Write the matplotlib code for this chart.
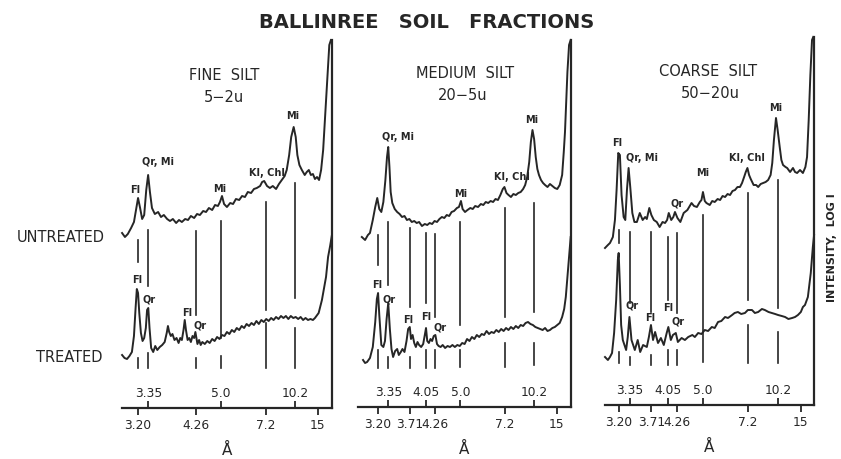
import numpy as np
import matplotlib
matplotlib.use("Agg")
import matplotlib.pyplot as plt

# ---------------- data (2-theta in degrees, Cu K-alpha; intensity in chart units) ----------------
WAVELENGTH = 1.5406

# Panel 1: fine silt 5-2u
p1_untr_2t = [29.8, 29.45, 29.1, 28.7, 28.35, 28.1, 27.85, 27.6, 27.35, 27.1, 26.85, 26.62, 26.4, 26.15,
              25.8, 25.4, 25.05, 24.7, 24.3, 23.95, 23.6, 23.2, 22.85, 22.5, 22.1, 21.75, 21.4, 21.0,
              20.65, 20.3, 19.9, 19.55, 19.2, 18.8, 18.45, 18.1, 17.85, 17.6, 17.35, 17.0, 16.6, 16.25,
              15.9, 15.5, 15.15, 14.8, 14.45, 14.05, 13.7, 13.35, 12.95, 12.7, 12.45, 12.1, 11.75, 11.4,
              11.0, 10.65, 10.3, 9.95, 9.7, 9.4, 9.15, 8.85, 8.6, 8.4, 8.15, 7.85, 7.5, 7.25, 7.0, 6.75,
              6.5, 6.25, 6.0, 5.75, 5.5, 5.25, 5.0, 4.75, 4.5, 4.3]
p1_untr_i = [175, 171, 174, 180, 186, 198, 210, 200, 189, 193, 218, 233, 216, 200,
             194, 196, 191, 193, 189, 187, 189, 185, 188, 186, 189, 188, 192, 190,
             194, 193, 197, 196, 200, 198, 203, 202, 206, 212, 204, 201, 205, 204,
             209, 208, 212, 211, 216, 215, 219, 220, 222, 226, 227, 222, 220, 222,
             219, 224, 228, 232, 238, 253, 271, 281, 271, 253, 243, 238, 233, 236, 238, 233,
             234, 229, 231, 228, 238, 258, 293, 328, 363, 368]

p1_trt_2t = [29.8, 29.5, 29.2, 28.9, 28.6, 28.35, 28.15, 28.0, 27.85, 27.7, 27.5, 27.3, 27.1, 26.9,
             26.75, 26.6, 26.45, 26.25, 26.0, 25.75, 25.5, 25.2, 24.9, 24.6, 24.35, 24.2, 24.05, 23.85,
             23.65, 23.4, 23.15, 22.9, 22.7, 22.5, 22.3, 22.15, 22.0, 21.8, 21.6, 21.4, 21.2, 21.0,
             20.85, 20.6, 20.4, 20.2, 20.0, 19.7, 19.4, 19.1, 18.8, 18.5, 18.2, 17.9, 17.6, 17.3, 17.0,
             16.7, 16.4, 16.1, 15.8, 15.5, 15.2, 14.9, 14.6, 14.3, 14.0, 13.7, 13.4, 13.1, 12.8, 12.5,
             12.2, 11.9, 11.6, 11.3, 11.0, 10.7, 10.4, 10.1, 9.8, 9.5, 9.2, 8.9, 8.6, 8.3, 8.0, 7.7,
             7.4, 7.1, 6.8, 6.5, 6.25, 5.8, 5.4, 4.9, 4.65, 4.4, 4.2]
p1_trt_i = [53, 50, 49, 52, 56, 72, 100, 119, 115, 95, 75, 67, 70, 80,
            98, 100, 80, 60, 56, 62, 58, 61, 63, 66, 75, 82, 76, 72,
            74, 68, 70, 65, 70, 68, 78, 88, 78, 68, 70, 66, 72, 70,
            76, 64, 68, 63, 66, 64, 67, 65, 69, 67, 71, 69, 73, 72, 76,
            74, 78, 76, 80, 78, 82, 80, 84, 82, 85, 83, 87, 84, 88, 86,
            89, 87, 90, 88, 91, 89, 92, 90, 92, 89, 92, 90, 91, 89, 91, 88,
            90, 88, 89, 88, 90, 95, 108, 131, 151, 162, 172]

# Panel 2: medium silt 20-5u
p2_untr_2t = [29.85, 29.45, 29.1, 28.85, 28.5, 28.2, 27.95, 27.7, 27.45, 27.2, 26.95, 26.75, 26.6,
              26.45, 26.3, 26.1, 25.8, 25.5, 25.2, 24.9, 24.6, 24.3, 24.0, 23.7, 23.4, 23.1, 22.8,
              22.45, 22.1, 21.8, 21.5, 21.2, 20.9, 20.6, 20.3, 20.0, 19.7, 19.4, 19.1, 18.8, 18.5,
              18.15, 17.9, 17.65, 17.45, 17.15, 16.85, 16.5, 16.2, 15.9, 15.55, 15.2, 14.9, 14.6,
              14.3, 14.0, 13.7, 13.4, 13.1, 12.8, 12.5, 12.3, 12.05, 11.8, 11.5, 11.2, 10.9, 10.6,
              10.3, 10.0, 9.75, 9.5, 9.25, 9.05, 8.85, 8.65, 8.45, 8.25, 8.05, 7.8, 7.55, 7.3, 7.0,
              6.7, 6.4, 6.1, 5.8, 5.5, 5.2, 5.0, 4.85, 4.7, 4.55, 4.35, 4.15]
p2_untr_i = [170, 167, 172, 174, 187, 200, 209, 198, 195, 205, 227, 250, 260,
             240, 215, 204, 198, 195, 193, 190, 191, 187, 188, 185, 186, 184, 185,
             181, 183, 182, 184, 183, 186, 185, 188, 190, 189, 192, 191, 195, 196,
             199, 200, 206, 198, 195, 197, 199, 198, 201, 200, 203, 202, 205,
             204, 206, 205, 208, 207, 212, 218, 220, 214, 212, 210, 213, 212, 214,
             215, 218, 222, 230, 245, 265, 277, 268, 250, 238, 232, 227, 224, 222, 220,
             223, 221, 219, 218, 222, 232, 255, 275, 305, 335, 362, 367]

p2_trt_2t = [29.7, 29.45, 29.2, 28.85, 28.5, 28.2, 28.0, 27.85, 27.7, 27.45, 27.2, 27.0, 26.8, 26.6,
             26.4, 26.2, 26.0, 25.75, 25.5, 25.3, 25.05, 24.85, 24.6, 24.35, 24.15, 23.95, 23.8,
             23.6, 23.4, 23.2, 23.0, 22.8, 22.55, 22.3, 22.1, 21.95, 21.8, 21.6, 21.4, 21.2, 21.0,
             20.8, 20.6, 20.4, 20.15, 19.9, 19.6, 19.3, 19.0, 18.7, 18.4, 18.1, 17.8, 17.5, 17.2,
             16.9, 16.6, 16.3, 16.0, 15.7, 15.4, 15.1, 14.8, 14.5, 14.2, 13.9, 13.6, 13.3, 13.0,
             12.7, 12.4, 12.1, 11.8, 11.5, 11.2, 10.9, 10.6, 10.3, 10.0, 9.7, 9.4, 9.1, 8.8, 8.5,
             8.2, 7.9, 7.6, 7.3, 7.0, 6.7, 6.4, 6.1, 5.8, 5.5, 5.2, 4.95, 4.75, 4.55, 4.35, 4.15]
p2_trt_i = [47, 44, 45, 49, 60, 85, 108, 114, 92, 62, 60, 66, 88, 104,
            78, 58, 50, 56, 58, 52, 55, 58, 55, 66, 78, 80, 68,
            72, 64, 60, 65, 62, 60, 63, 72, 79, 66, 64, 68, 66, 71,
            72, 63, 61, 60, 62, 59, 61, 60, 62, 60, 62, 61, 64, 63,
            68, 66, 70, 68, 72, 70, 73, 72, 76, 73, 75, 74, 77, 75,
            78, 76, 79, 77, 80, 78, 81, 79, 82, 81, 84, 85, 83, 82, 80,
            79, 78, 77, 79, 76, 77, 79, 80, 82, 84, 90, 98, 110, 130, 150, 170]

# Panel 3: coarse silt 50-20u
p3_untr_2t = [29.55, 29.2, 28.95, 28.6, 28.35, 28.15, 27.95, 27.75, 27.55, 27.3, 27.1, 26.9, 26.7,
              26.5, 26.25, 26.0, 25.7, 25.35, 25.0, 24.7, 24.5, 24.2, 23.95, 23.65, 23.3, 22.95,
              22.6, 22.3, 22.05, 21.85, 21.55, 21.3, 21.1, 20.8, 20.45, 20.05, 19.6, 19.1, 18.8,
              18.45, 18.1, 17.9, 17.72, 17.5, 17.3, 16.9, 16.6, 16.3, 15.95, 15.65, 15.35, 15.05,
              14.75, 14.45, 14.15, 13.85, 13.55, 13.25, 13.0, 12.75, 12.55, 12.35, 12.15, 11.95,
              11.6, 11.3, 11.05, 10.75, 10.45, 10.15, 9.85, 9.55, 9.35, 9.15, 8.9, 8.7, 8.45, 8.25,
              8.05, 7.75, 7.55, 7.2, 6.85, 6.6, 6.35, 6.0, 5.65, 5.35, 5.15, 4.95, 4.75, 4.55, 4.4]
p3_untr_i = [157, 160, 162, 168, 185, 215, 252, 250, 210, 188, 185, 215, 237,
             218, 192, 183, 183, 192, 185, 188, 186, 197, 190, 185, 183, 178,
             183, 182, 185, 192, 185, 188, 193, 187, 183, 192, 195, 202, 199,
             198, 203, 205, 213, 204, 202, 200, 204, 203, 206, 205, 209, 208,
             211, 210, 214, 215, 218, 218, 222, 228, 233, 237, 230, 226,
             220, 220, 218, 221, 222, 223, 225, 230, 242, 265, 287, 275, 258, 245,
             240, 238, 237, 233, 237, 233, 232, 235, 232, 238, 248, 285, 330, 365, 368]

p3_trt_2t = [29.55, 29.2, 28.95, 28.7, 28.45, 28.2, 28.0, 27.9, 27.75, 27.6, 27.4, 27.0, 26.8, 26.6,
             26.35, 25.95, 25.6, 25.3, 24.95, 24.5, 24.25, 24.0, 23.75, 23.5, 23.15, 22.8, 22.45,
             22.1, 21.9, 21.6, 21.35, 21.0, 20.75, 20.3, 19.9, 19.5, 19.0, 18.7, 18.3, 17.9, 17.5,
             17.1, 16.65, 16.3, 15.9, 15.5, 15.05, 14.7, 14.2, 13.9, 13.5, 13.1, 12.65, 12.3, 11.8,
             11.45, 11.05, 10.6, 10.25, 9.8, 9.4, 9.0, 8.65, 8.2, 7.8, 7.4, 6.95, 6.6, 6.25, 5.9,
             5.65, 5.4, 5.05, 4.7, 4.45, 4.3]
p3_trt_i = [48, 45, 48, 52, 72, 105, 145, 152, 120, 80, 65, 55, 68, 88,
            65, 55, 65, 53, 60, 58, 68, 80, 65, 73, 62, 67, 60,
            72, 78, 65, 70, 72, 63, 67, 65, 68, 70, 68, 72, 71, 75,
            74, 78, 77, 83, 84, 88, 87, 90, 92, 93, 91, 92, 95, 95,
            92, 93, 96, 95, 93, 92, 91, 90, 89, 88, 86, 87, 88, 90, 93,
            98, 100, 108, 132, 158, 170]

# marker d-spacings (Angstrom) and axis labels
p1_marks_d = [3.20, 3.35, 4.26, 5.0, 7.2, 10.2]
p23_marks_d = [3.20, 3.35, 3.71, 4.05, 4.26, 5.0, 7.2, 10.2]
p1_ticks_low = [3.20, 4.26, 7.2, 15]
p1_ticks_up = [3.35, 5.0, 10.2]
p23_ticks_low = [3.20, 3.71, 4.26, 7.2, 15]
p23_ticks_up = [3.35, 4.05, 5.0, 10.2]
tick_text = {3.20: "3.20", 3.35: "3.35", 3.71: "3.71", 4.05: "4.05", 4.26: "4.26",
             5.0: "5.0", 7.2: "7.2", 10.2: "10.2", 15: "15"}

panel_titles = [("FINE  SILT", "5\u22122u"), ("MEDIUM  SILT", "20\u22125u"), ("COARSE  SILT", "50\u221220u")]

# ---------------- layout / style ----------------
W, H = 841, 459
INK = "#262626"


def two_theta(d):
    return np.degrees(2 * np.arcsin(WAVELENGTH / (2 * np.asarray(d, dtype=float))))


plt.rcParams['font.family'] = ['DejaVu Sans']
fig = plt.figure(figsize=(W / 100, H / 100), dpi=100)
fig.patch.set_facecolor("white")


def fx(px):
    return px / W


def fy(py):
    return 1 - py / H


# panel frames in pixels: (left, right, axis y), x-limits in 2-theta
frames = [
    dict(L=122, R=332, Y=408, xlim=(29.81, 4.17), top=368),
    dict(L=358, R=571, Y=407, xlim=(30.32, 4.11), top=367),
    dict(L=605, R=814, Y=405, xlim=(29.55, 4.31), top=368),
]
TOP_PX = 30

traces = [
    (p1_untr_2t, p1_untr_i, p1_trt_2t, p1_trt_i),
    (p2_untr_2t, p2_untr_i, p2_trt_2t, p2_trt_i),
    (p3_untr_2t, p3_untr_i, p3_trt_2t, p3_trt_i),
]

# marker segment extents (chart units above the axis): upper (below untreated), lower (below treated)
marker_upper = [
    [(168, 146), (178, 122), (177, 93), (187, 70), (206, 98), (225, 110)],
    [(172, 142), (185, 122), (179, 100), (174, 104), (173, 90), (185, 82), (199, 90), (204, 95)],
    [(175, 162), (173, 102), (173, 93), (168, 105), (172, 92), (190, 43), (212, 105), (225, 97)],
]
marker_lower = [
    [(50, 40), (55, 40), (50, 40), (52, 40), (85, 40), (80, 40)],
    [(57, 39), (50, 39), (50, 39), (57, 39), (57, 39), (57, 40), (64, 40), (64, 42)],
    [(53, 42), (48, 40), (50, 40), (55, 40), (55, 40), None, (80, 42), (73, 42)],
]
marks = [p1_marks_d, p23_marks_d, p23_marks_d]
ticks_low = [p1_ticks_low, p23_ticks_low, p23_ticks_low]
ticks_up = [p1_ticks_up, p23_ticks_up, p23_ticks_up]

# peak labels: (text, 2-theta, height)
peak_labels = [
    [("Fl", 28.2, 218), ("Qr, Mi", 25.4, 246), ("Mi", 17.85, 219), ("Kl, Chl", 12.1, 235), ("Mi", 9.0, 292),
     ("Fl", 28.0, 128), ("Qr", 26.5, 108), ("Fl", 21.9, 95), ("Qr", 20.3, 83)],
    [("Qr, Mi", 25.4, 270), ("Mi", 17.65, 213), ("Kl, Chl", 11.35, 230), ("Mi", 8.9, 287),
     ("Fl", 28.0, 122), ("Qr", 26.5, 107), ("Fl", 24.2, 87), ("Fl", 21.95, 90), ("Qr", 20.25, 80)],
    [("Fl", 28.1, 262), ("Qr, Mi", 25.1, 247), ("Qr", 20.85, 202), ("Mi", 17.7, 232), ("Kl, Chl", 12.4, 247),
     ("Mi", 8.9, 297), ("Qr", 26.3, 100), ("Fl", 24.1, 87), ("Fl", 21.95, 97), ("Qr", 20.75, 83)],
]
title_pos = [((224, 75), (224, 98)), ((465, 73), (463, 96)), ((708, 72), (710, 94))]

for k, fr in enumerate(frames):
    ax = fig.add_axes([fx(fr["L"]), fy(fr["Y"]), fx(fr["R"] - fr["L"]), (fr["Y"] - TOP_PX) / H])
    ax.set_facecolor("none")
    ax.set_xlim(*fr["xlim"])
    ax.set_ylim(0, fr["Y"] - TOP_PX)
    for s in ("top", "left"):
        ax.spines[s].set_visible(False)
    ax.spines["bottom"].set_linewidth(1.6)
    ax.spines["bottom"].set_color(INK)
    ax.spines["right"].set_linewidth(1.6)
    ax.spines["right"].set_color(INK)
    ax.spines["right"].set_bounds(0, fr["top"])
    ax.set_yticks([])

    ux, uy, tx, ty = traces[k]
    ax.plot(ux, uy, color=INK, lw=1.4, solid_joinstyle="round", clip_on=False)
    ax.plot(tx, ty, color=INK, lw=1.4, solid_joinstyle="round", clip_on=False)

    for d, up, lo in zip(marks[k], marker_upper[k], marker_lower[k]):
        x = two_theta(d)
        ax.plot([x, x], list(up), color=INK, lw=1.2)
        if lo is not None:
            ax.plot([x, x], list(lo), color=INK, lw=1.2)

    lows = ticks_low[k]
    ups = ticks_up[k]
    ax.set_xticks(two_theta(lows))
    ax.set_xticklabels([tick_text[v] for v in lows])
    ax.set_xticks(two_theta(ups), minor=True)
    ax.set_xticklabels([tick_text[v] for v in ups], minor=True)
    ax.tick_params(axis="x", which="major", direction="out", length=5, width=1.3, color=INK,
                   labelsize=8.8, labelcolor=INK, pad=3)
    ax.tick_params(axis="x", which="minor", direction="in", length=5, width=1.3, color=INK,
                   labelsize=8.8, labelcolor=INK, pad=-15)
    ax.set_xlabel("\u00c5", fontsize=11, color=INK, labelpad=8)

    for txt, x, y in peak_labels[k]:
        ax.text(x, y, txt, ha="center", va="center", fontsize=7, fontweight="bold", color=INK)

    (t1, t2) = title_pos[k]
    fig.text(fx(t1[0]), fy(t1[1]), panel_titles[k][0], ha="center", va="center", fontsize=10.5, color=INK)
    fig.text(fx(t2[0]), fy(t2[1]), panel_titles[k][1], ha="center", va="center", fontsize=10.5, color=INK)

fig.text(fx(427), fy(23), "BALLINREE   SOIL   FRACTIONS", ha="center", va="center", fontsize=14,
         fontweight="bold", color=INK)
fig.text(fx(105), fy(237), "UNTREATED", ha="right", va="center", fontsize=10.5, color=INK)
fig.text(fx(103), fy(357), "TREATED", ha="right", va="center", fontsize=10.5, color=INK)
fig.text(fx(832), fy(248), "INTENSITY,  LOG I", ha="center", va="center", rotation=90, fontsize=8,
         fontweight="bold", color=INK)

fig.savefig("out.png", dpi=100, facecolor="white")
